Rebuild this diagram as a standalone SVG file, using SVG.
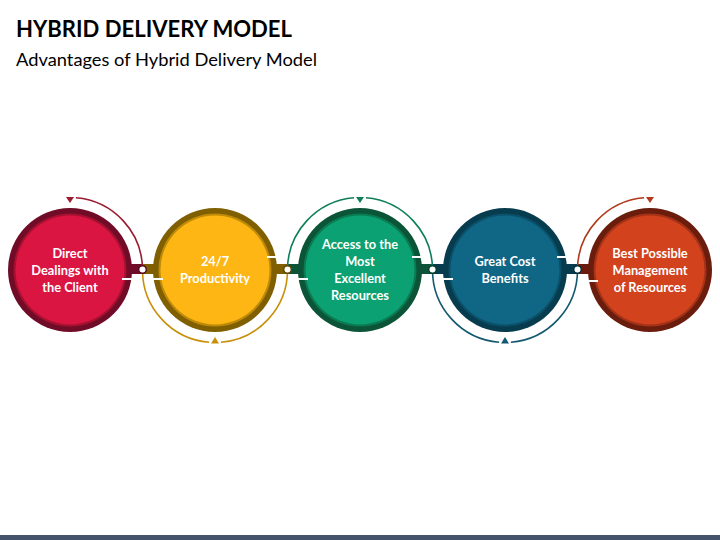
<svg xmlns="http://www.w3.org/2000/svg" width="720" height="540" viewBox="0 0 720 540">
  <style>
    .title { font-family: Lato, "Open Sans", "Liberation Sans", sans-serif; font-weight: 700; font-size: 22px; fill: #000; }
    .sub { font-family: Lato, "Open Sans", "Liberation Sans", sans-serif; font-size: 18px; fill: #000; }
    .lbl { font-family: Lato, "Open Sans", "Liberation Sans", sans-serif; font-weight: 700; font-size: 12.8px; fill: #fff; text-anchor: middle; }
    .arc { fill: none; stroke-width: 1.6; }
    .gap { stroke: #fff; stroke-width: 2; }
    .dot { fill: #fff; stroke-width: 1.5; }
  </style>
  <rect width="720" height="540" fill="#fff"/>
  <text class="title" x="16" y="37" textLength="276" lengthAdjust="spacingAndGlyphs">HYBRID DELIVERY MODEL</text>
  <text class="sub" x="16" y="66" textLength="301" lengthAdjust="spacingAndGlyphs">Advantages of Hybrid Delivery Model</text>

  <g id="connectors">
    <!-- bars -->
    <rect x="124" y="264" width="19" height="10" fill="#700C27"/>
    <rect x="142.5" y="264" width="19" height="10" fill="#7F5F00"/>
    <rect x="269" y="264" width="19" height="10" fill="#7F5F00"/>
    <rect x="287.5" y="264" width="19" height="10" fill="#0B5438"/>
    <rect x="414" y="264" width="19" height="10" fill="#0B5438"/>
    <rect x="432.5" y="264" width="19" height="10" fill="#073B4E"/>
    <rect x="559" y="264" width="19" height="10" fill="#073B4E"/>
    <rect x="577.5" y="264" width="19" height="10" fill="#6A1C0D"/>
    <!-- thin arcs -->
    <path class="arc" stroke="#9B1B30" d="M75.9,197.7 A72.5,72.5 0 0 1 142.5,270"/>
    <path class="arc" stroke="#C8900A" d="M142.5,270 A72.5,72.5 0 0 0 209.1,342.3"/>
    <path class="arc" stroke="#C8900A" d="M220.9,342.3 A72.5,72.5 0 0 0 287.5,270"/>
    <path class="arc" stroke="#0E7E5A" d="M287.5,270 A72.5,72.5 0 0 1 354.1,197.7"/>
    <path class="arc" stroke="#0E7E5A" d="M365.9,197.7 A72.5,72.5 0 0 1 432.5,270"/>
    <path class="arc" stroke="#135870" d="M432.5,270 A72.5,72.5 0 0 0 499.1,342.3"/>
    <path class="arc" stroke="#135870" d="M510.9,342.3 A72.5,72.5 0 0 0 577.5,270"/>
    <path class="arc" stroke="#B03A1B" d="M577.5,270 A72.5,72.5 0 0 1 644.1,197.7"/>
    <!-- arrowheads -->
    <polygon fill="#9B1B30" points="66,197 74,197 70,203"/>
    <polygon fill="#C8900A" points="211,343.5 219,343.5 215,337"/>
    <polygon fill="#0E7E5A" points="356,197 364,197 360,203"/>
    <polygon fill="#135870" points="501,343.5 509,343.5 505,337"/>
    <polygon fill="#B03A1B" points="646,197 654,197 650,203"/>
  </g>

  <g id="node1">
    <circle cx="70" cy="270" r="62" fill="#700C27"/>
    <circle cx="70" cy="270" r="56.5" fill="#A5112F"/>
    <circle cx="70" cy="270" r="54.5" fill="#DA1542"/>
    <line class="gap" x1="122" y1="279" x2="133" y2="279"/>
    <text class="lbl" x="70" y="257.5">Direct</text>
    <text class="lbl" x="70" y="274.5">Dealings with</text>
    <text class="lbl" x="70" y="291.5">the Client</text>
  </g>
  <g id="node2">
    <circle cx="215" cy="270" r="62" fill="#7F5F00"/>
    <circle cx="215" cy="270" r="56.5" fill="#BF8A08"/>
    <circle cx="215" cy="270" r="54.5" fill="#FDB614"/>
    <line class="gap" x1="152" y1="279" x2="163" y2="279"/>
    <line class="gap" x1="267" y1="257" x2="278" y2="257"/>
    <text class="lbl" x="215" y="265.5">24/7</text>
    <text class="lbl" x="215" y="282.5">Productivity</text>
  </g>
  <g id="node3">
    <circle cx="360" cy="270" r="62" fill="#0B5438"/>
    <circle cx="360" cy="270" r="56.5" fill="#0A7A52"/>
    <circle cx="360" cy="270" r="54.5" fill="#0BA172"/>
    <line class="gap" x1="297" y1="279" x2="308" y2="279"/>
    <line class="gap" x1="412" y1="257" x2="423" y2="257"/>
    <text class="lbl" x="360" y="248.5">Access to the</text>
    <text class="lbl" x="360" y="265.5">Most</text>
    <text class="lbl" x="360" y="282.5">Excellent</text>
    <text class="lbl" x="360" y="299.5">Resources</text>
  </g>
  <g id="node4">
    <circle cx="505" cy="270" r="62" fill="#073B4E"/>
    <circle cx="505" cy="270" r="56.5" fill="#0B5069"/>
    <circle cx="505" cy="270" r="54.5" fill="#106685"/>
    <line class="gap" x1="442" y1="279" x2="453" y2="279"/>
    <line class="gap" x1="557" y1="257" x2="568" y2="257"/>
    <text class="lbl" x="505" y="265.5">Great Cost</text>
    <text class="lbl" x="505" y="282.5">Benefits</text>
  </g>
  <g id="node5">
    <circle cx="650" cy="270" r="62" fill="#6A1C0D"/>
    <circle cx="650" cy="270" r="56.5" fill="#A33217"/>
    <circle cx="650" cy="270" r="54.5" fill="#D1421D"/>
    <line class="gap" x1="587" y1="281" x2="598" y2="281"/>
    <text class="lbl" x="650" y="257.5">Best Possible</text>
    <text class="lbl" x="650" y="274.5">Management</text>
    <text class="lbl" x="650" y="291.5">of Resources</text>
  </g>

  <g id="junctions">
    <circle class="dot" cx="142.5" cy="269.5" r="3.8" stroke="#5A0A20"/>
    <circle class="dot" cx="287.5" cy="269.5" r="3.8" stroke="#5E4700"/>
    <circle class="dot" cx="432.5" cy="269.5" r="3.8" stroke="#083F2B"/>
    <circle class="dot" cx="577.5" cy="269.5" r="3.8" stroke="#052E3D"/>
  </g>

  <rect x="0" y="535" width="720" height="5" fill="#44546A"/>
</svg>
